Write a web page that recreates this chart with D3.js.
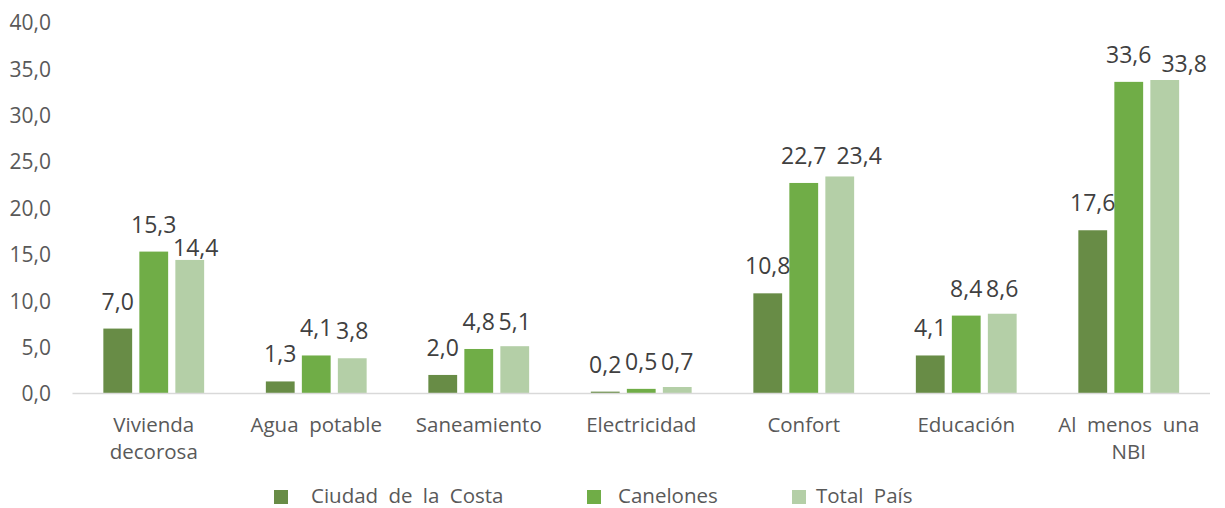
<!DOCTYPE html>
<html><head><meta charset="utf-8">
<script src="https://cdn.jsdelivr.net/npm/d3@7"></script>
<style>
body{margin:0;background:#fff;}
text{font-family:"Open Sans",sans-serif;}
</style></head>
<body><svg id="c" width="1225" height="508"></svg>
<script>
const categories = [["Vivienda","decorosa"],["Agua  potable"],["Saneamiento"],["Electricidad"],["Confort"],["Educación"],["Al  menos  una","NBI"]];
const seriesNames = ["Ciudad de la Costa","Canelones","Total País"];
const ciudadCosta = [7.0,1.3,2.0,0.2,10.8,4.1,17.6];
const canelones = [15.3,4.1,4.8,0.5,22.7,8.4,33.6];
const totalPais = [14.4,3.8,5.1,0.7,23.4,8.6,33.8];
const yTicks = [0,5,10,15,20,25,30,35,40];
const colors = ["#688c46","#70ad47","#b4cfa7"];

const series = [ciudadCosta, canelones, totalPais];
const svg = d3.select("#c");
const fmt = v => v.toFixed(1).replace(".", ",");

const catIdx = categories.map((c,i)=>i);
const x0 = d3.scaleBand().domain(catIdx).range([72.5,1210]);
const gw = 108;
const x1 = d3.scaleBand().domain([0,1,2]).range([0,gw]).paddingInner(0.2).paddingOuter(0.1);
const y = d3.scaleLinear().domain([0,40]).range([393.5,22.5]);

// y axis labels
const yAxis = d3.axisLeft(y).tickValues(yTicks).tickFormat(fmt).tickSize(0).tickPadding(0);
const ga = svg.append("g").attr("transform","translate(51,0)").call(yAxis);
ga.select(".domain").remove();
ga.selectAll("text").attr("font-size",21).attr("fill","#595959").attr("font-family","'Open Sans',sans-serif").attr("dy","0.35em");

// bars
const gStart = i => x0(i) + (x0.bandwidth()-gw)/2;
series.forEach((vals,s)=>{
  svg.append("g").selectAll("rect").data(vals).join("rect")
    .attr("x",(d,i)=>gStart(i)+x1(s))
    .attr("width",x1.bandwidth())
    .attr("y",d=>y(d))
    .attr("height",d=>y(0)-y(d))
    .attr("fill",colors[s]);
});

// baseline
svg.append("line").attr("x1",72.5).attr("x2",1210).attr("y1",y(0)).attr("y2",y(0))
  .attr("stroke","#d9d9d9").attr("stroke-width",1.5);

// data labels (with a simple overlap-avoidance step, like the spreadsheet does)
catIdx.forEach(i=>{
  const base = series.map(v=>y(v[i])-19);
  const xs = series.map((v,s)=>gStart(i)+x1(s)+x1.bandwidth()/2);
  const texts = series.map((v,s)=>svg.append("text").attr("text-anchor","middle")
      .attr("font-size",23).attr("fill","#404040").text(fmt(v[i])));
  const w = texts.map(t=>t.node().getComputedTextLength());
  const hOverlap = (xs[1]+w[1]/2) > (xs[2]-w[2]/2);
  const dv = base[2]-base[1];
  if (Math.abs(dv) < 16) {
    if (hOverlap) {
      if (dv > 5) { base[2] = y(series[2][i]) - 4; xs[2] += 6; }
      else {
        xs[2] = xs[1] + w[1]/2 + 10 + w[2]/2;
        base[2] = Math.max(base[1], base[2]) + (Math.abs(dv) < 3 ? 9 : 0);
      }
    } else {
      base[2] = Math.max(base[1], base[2]);
    }
  }
  texts.forEach((t,s)=>t.attr("x",xs[s]).attr("y",base[s]));
});

// category labels
categories.forEach((lines,i)=>{
  const cx = x0(i)+x0.bandwidth()/2;
  const t = svg.append("text").attr("text-anchor","middle").attr("font-size",20.5).attr("fill","#595959")
    .attr("x",cx).attr("y",432).style("white-space","pre");
  lines.forEach((ln,k)=>{
    t.append("tspan").attr("x",cx).attr("dy",k===0?0:27).text(ln);
  });
});

// legend
const legX = [274,587,792];
const legTx = [311,618,816];
seriesNames.forEach((n,s)=>{
  svg.append("rect").attr("x",legX[s]).attr("y",490).attr("width",14).attr("height",14).attr("fill",colors[s]);
  svg.append("text").attr("x",legTx[s]).attr("y",502.5).attr("font-size",20.5).attr("fill","#595959")
    .style("word-spacing","5px").text(n);
});
</script></body></html>
